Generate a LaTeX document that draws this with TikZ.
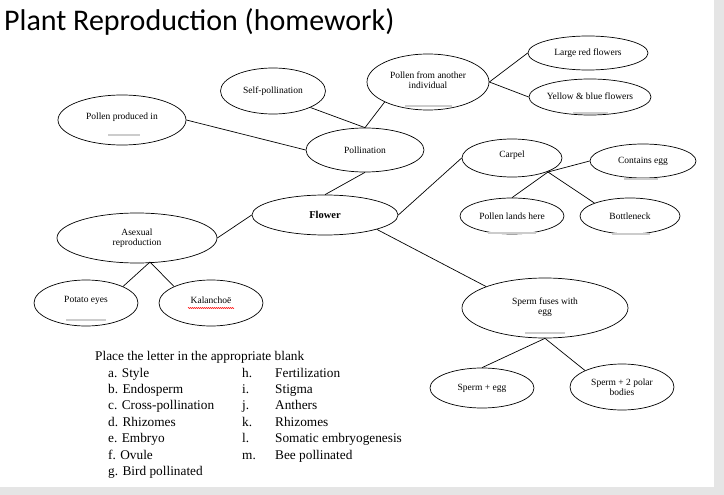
\documentclass[tikz,border=0pt]{standalone}
\usepackage{fontspec}
\setmainfont{Liberation Serif}
\newfontfamily\titlefont{Carlito}
\usetikzlibrary{shapes.geometric,decorations.pathmorphing}
\begin{document}
\begin{tikzpicture}[x=1pt,y=-1pt,
  ell/.style={ellipse,draw,line width=0.7pt,inner sep=0pt,font=\fontsize{9.5}{10.5}\selectfont,align=center},
  conn/.style={line width=0.7pt},
  blank/.style={draw=gray!40,line width=1.2pt},
  txt/.style={anchor=base west,inner sep=0pt,font=\fontsize{13.3}{14}\selectfont}]
\fill[gray!20] (0,0) rectangle (724,495);
\fill[white] (0,0) rectangle (714,487);
\useasboundingbox (0,0) rectangle (724,495);
\node[anchor=base west,inner sep=0pt,font=\titlefont\fontsize{30}{32}\selectfont] (title) at (4,31) {Plant Reproduction (homework)};
\node[ell,minimum width=128,minimum height=50] (ppi) at (122,120) {};
\node[font=\fontsize{9.5}{10.5}\selectfont] (ppit) at (122,117) {Pollen produced in};
\node[ell,minimum width=105,minimum height=46] (self) at (273,91) {Self-pollination};
\node[ell,minimum width=122,minimum height=56] (pfa) at (428,82) {};
\node[font=\fontsize{9.5}{10.5}\selectfont,align=center] (pfat) at (428,80) {Pollen from another\\individual};
\node[ell,minimum width=120,minimum height=34] (lrf) at (588,53) {Large red flowers};
\node[ell,minimum width=122,minimum height=36] (ybf) at (590,97) {};
\node[font=\fontsize{9.5}{10.5}\selectfont] (ybft) at (590,96) {Yellow \& blue flowers};
\node[ell,minimum width=118,minimum height=44] (pol) at (365,150) {Pollination};
\node[ell,minimum width=100,minimum height=38] (carp) at (512,158) {};
\node[font=\fontsize{9.5}{10.5}\selectfont] (carpt) at (512,155) {Carpel};
\node[ell,minimum width=106,minimum height=34] (egg) at (643,161) {Contains egg};
\node[ell,minimum width=146,minimum height=40,font=\fontsize{10.5}{12}\selectfont\bfseries] (flo) at (325,215) {Flower};
\node[ell,minimum width=104,minimum height=36] (plh) at (512,216) {Pollen lands here};
\node[ell,minimum width=100,minimum height=36] (bot) at (630,216) {Bottleneck};
\node[ell,minimum width=160,minimum height=50] (ase) at (137,238) {Asexual\\reproduction};
\node[ell,minimum width=104,minimum height=46] (pot) at (86,303) {};
\node[font=\fontsize{9.5}{10.5}\selectfont] (pott) at (86,300) {Potato eyes};
\node[ell,minimum width=104,minimum height=46] (kal) at (211,303) {};
\node[font=\fontsize{9.5}{10.5}\selectfont] (kalt) at (211,300) {Kalanchoë};
\node[ell,minimum width=166,minimum height=60] (spf) at (545,308) {};
\node[font=\fontsize{9.5}{10.5}\selectfont,align=center] (spft) at (545,307) {Sperm fuses with\\egg};
\node[ell,minimum width=104,minimum height=40] (spe) at (482,388) {Sperm + egg};
\node[ell,minimum width=104,minimum height=46] (sp2) at (622,387) {Sperm + 2 polar\\bodies};
% blanks
\draw[blank] (108,135) -- (140,135);
\draw[blank] (405,106) -- (452,106);
\draw[blank] (573,113) -- (608,113);
\draw[blank] (624,179) -- (658,179);
\draw[blank] (488,233) -- (536,233);
\draw[blank] (612,234) -- (650,234);
\draw[blank] (66,320) -- (106,320);
\draw[blank] (525,333) -- (565,333);
\draw[red,line width=0.4pt,decorate,decoration={zigzag,amplitude=0.6pt,segment length=2pt}] (188,308) -- (234,308);
% connectors
\coordinate (ab) at (150,262);
\draw[conn] (ppi.east) -- (pol.west);
\draw[conn] (self.south east) -- (pol.north);
\draw[conn] (pfa.south west) -- (pol.north);
\draw[conn] (pfa.east) -- (lrf.west);
\draw[conn] (pfa.east) -- (ybf.west);
\draw[conn] (pol.south) -- (flo.north);
\draw[conn] (flo.east) -- (carp.west);
\draw[conn] (flo.west) -- (ase.east);
\draw[conn] (flo.south east) -- (spf.north west);
\coordinate (cb) at (548,172);
\draw[conn] (cb) -- (egg.west);
\draw[conn] (cb) -- (plh.north);
\draw[conn] (cb) -- (bot.north west);
\draw[conn] (ab) -- (pot.north east);
\draw[conn] (ab) -- (kal.north west);
\draw[conn] (spf.south) -- (spe.north);
\draw[conn] (spf.south) -- (sp2.north west);
% text block
\node[txt] (hdr) at (95,360) {Place the letter in the appropriate blank};
\foreach \i/\a/\b in {0/a. Style/Fertilization,1/b. Endosperm/Stigma,2/c. Cross-pollination/Anthers,3/d. Rhizomes/Rhizomes,4/e. Embryo/Somatic embryogenesis,5/f. Ovule/Bee pollinated}{
  \node[txt] (l\i) at (108,377+16.4*\i) {\a};
  \node[txt] (r\i) at (275,377+16.4*\i) {\b};
}
\node[txt] (l6) at (108,475.4) {g. Bird pollinated};
\foreach \i/\k in {0/h.,1/i.,2/j.,3/k.,4/l.,5/m.}{
  \node[txt] (k\i) at (242,377+16.4*\i) {\k};
}
\end{tikzpicture}
\end{document}
